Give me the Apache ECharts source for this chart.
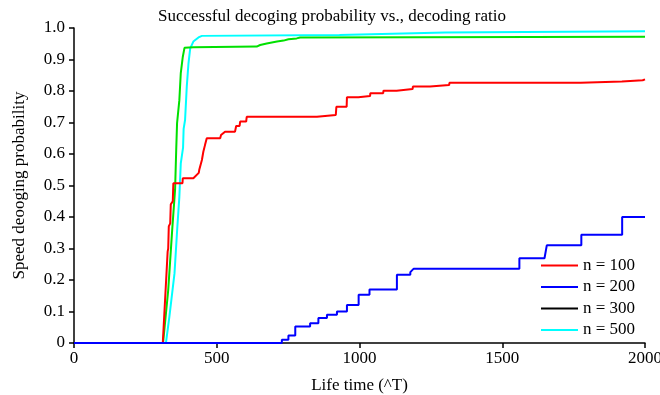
<!DOCTYPE html>
<html>
<head>
<meta charset="utf-8">
<script src="https://cdn.jsdelivr.net/npm/echarts@6/dist/echarts.min.js"></script>
<style>
  html, body { margin: 0; padding: 0; background: #fff; }
  #main { width: 660px; height: 395px; }
</style>
</head>
<body>
<div id="main"></div>
<script>
// 图例名称
var seriesNames = ['n = 100', 'n = 200', 'n = 300', 'n = 500'];

// n = 100 (红)
var n100 = [
  [0, 0], [311, 0], [328, 0.29], [330, 0.30], [332, 0.37], [337, 0.38], [339, 0.44],
  [346, 0.45], [348, 0.507], [380, 0.507], [381, 0.523], [418, 0.523], [423, 0.528],
  [437, 0.54], [439, 0.551], [448, 0.581], [453, 0.607], [459, 0.629], [465, 0.65],
  [512, 0.65], [515, 0.66], [529, 0.671], [564, 0.671], [568, 0.689], [580, 0.689],
  [582, 0.703], [603, 0.703], [605, 0.718], [851, 0.718], [853, 0.724], [917, 0.724],
  [919, 0.75], [955, 0.75], [956, 0.78], [996, 0.78], [997, 0.784], [1037, 0.784],
  [1038, 0.793], [1083, 0.793], [1084, 0.801], [1130, 0.801], [1131, 0.806],
  [1186, 0.806], [1187, 0.814], [1247, 0.814], [1248, 0.819], [1314, 0.819],
  [1315, 0.826], [1775, 0.826], [1777, 0.83], [1919, 0.83], [1921, 0.834],
  [1992, 0.834], [1994, 0.837], [2000, 0.837]
];

// n = 200 (蓝)
var n200 = [
  [0, 0], [728, 0], [728, 0.01], [751, 0.01], [751, 0.024], [775, 0.024], [775, 0.052],
  [827, 0.052], [827, 0.063], [856, 0.063], [856, 0.079], [886, 0.079], [886, 0.09],
  [921, 0.09], [921, 0.10], [956, 0.10], [956, 0.121], [997, 0.121], [997, 0.153],
  [1035, 0.153], [1035, 0.17], [1131, 0.17], [1131, 0.217], [1178, 0.217],
  [1178, 0.225], [1190, 0.236], [1560, 0.236], [1560, 0.269], [1648, 0.269],
  [1656, 0.31], [1777, 0.31], [1777, 0.344], [1920, 0.344], [1920, 0.40], [2000, 0.40]
];

// n = 300 (绿线，图例为黑)
var n300 = [
  [0, 0], [312, 0], [330, 0.168], [344, 0.36], [354, 0.486], [358, 0.613], [361, 0.698],
  [369, 0.771], [374, 0.857], [381, 0.908], [387, 0.937], [418, 0.939], [640, 0.941],
  [652, 0.946], [675, 0.951], [711, 0.957], [734, 0.96], [751, 0.964], [780, 0.967],
  [792, 0.97], [1200, 0.971], [2000, 0.972]
];

// n = 500 (青)
var n500 = [
  [0, 0], [322, 0], [334, 0.083], [352, 0.221], [362, 0.369], [369, 0.464], [374, 0.57],
  [382, 0.62], [384, 0.68], [389, 0.708], [395, 0.814], [401, 0.888], [407, 0.935],
  [418, 0.957], [436, 0.97], [448, 0.975], [930, 0.978], [1300, 0.986], [2000, 0.99]
];

var fontFamily = '"Liberation Serif", "Times New Roman", serif';

var chart = echarts.init(document.getElementById('main'));

var option = {
  animation: false,
  title: {
    text: 'Successful decoging probability vs., decoding ratio',
    left: 153,
    top: 3,
    textStyle: { fontFamily: fontFamily, fontSize: 17, fontWeight: 'normal', color: '#000' }
  },
  grid: { left: 74, right: 15, top: 28, bottom: 52, containLabel: false, outerBoundsMode: 'none' },
  legend: {
    orient: 'vertical',
    left: 536,
    top: 252,
    icon: 'rect',
    itemWidth: 37,
    itemHeight: 2,
    itemGap: 4.5,
    textStyle: { fontFamily: fontFamily, fontSize: 17, lineHeight: 17, color: '#000' },
    data: seriesNames
  },
  xAxis: {
    type: 'value',
    min: 0,
    max: 2000,
    interval: 500,
    name: 'Life time (^T)',
    nameLocation: 'middle',
    nameGap: 34,
    nameTextStyle: { fontFamily: fontFamily, fontSize: 17, color: '#000' },
    axisLine: { show: true, lineStyle: { color: '#000', width: 1.5 } },
    axisTick: { show: true, inside: false, length: 5, lineStyle: { color: '#000', width: 1.5 } },
    axisLabel: {
      fontFamily: fontFamily, fontSize: 17, color: '#000', margin: 7,
      formatter: function (v) { return String(v); }
    },
    splitLine: { show: false }
  },
  yAxis: {
    type: 'value',
    min: 0,
    max: 1,
    interval: 0.1,
    name: 'Speed deooging probability',
    nameLocation: 'middle',
    nameGap: 46,
    nameTextStyle: { fontFamily: fontFamily, fontSize: 17, color: '#000' },
    axisLine: { show: true, lineStyle: { color: '#000', width: 1.5 } },
    axisTick: { show: true, inside: false, length: 5, lineStyle: { color: '#000', width: 1.5 } },
    axisLabel: {
      fontFamily: fontFamily, fontSize: 17, color: '#000', margin: 9,
      formatter: function (v) { return v === 0 ? '0' : v.toFixed(1); }
    },
    splitLine: { show: false }
  },
  series: [
    {
      name: seriesNames[3], type: 'line', data: n500, symbol: 'none',
      itemStyle: { color: '#00ffff' }, lineStyle: { color: '#00ffff', width: 2 }
    },
    {
      name: seriesNames[2], type: 'line', data: n300, symbol: 'none',
      itemStyle: { color: '#000000' }, lineStyle: { color: '#00e000', width: 2 }
    },
    {
      name: seriesNames[0], type: 'line', data: n100, symbol: 'none',
      itemStyle: { color: '#ff0000' }, lineStyle: { color: '#ff0000', width: 2 }
    },
    {
      name: seriesNames[1], type: 'line', data: n200, symbol: 'none',
      itemStyle: { color: '#0000ff' }, lineStyle: { color: '#0000ff', width: 2 }
    }
  ]
};

chart.setOption(option);
</script>
</body>
</html>
